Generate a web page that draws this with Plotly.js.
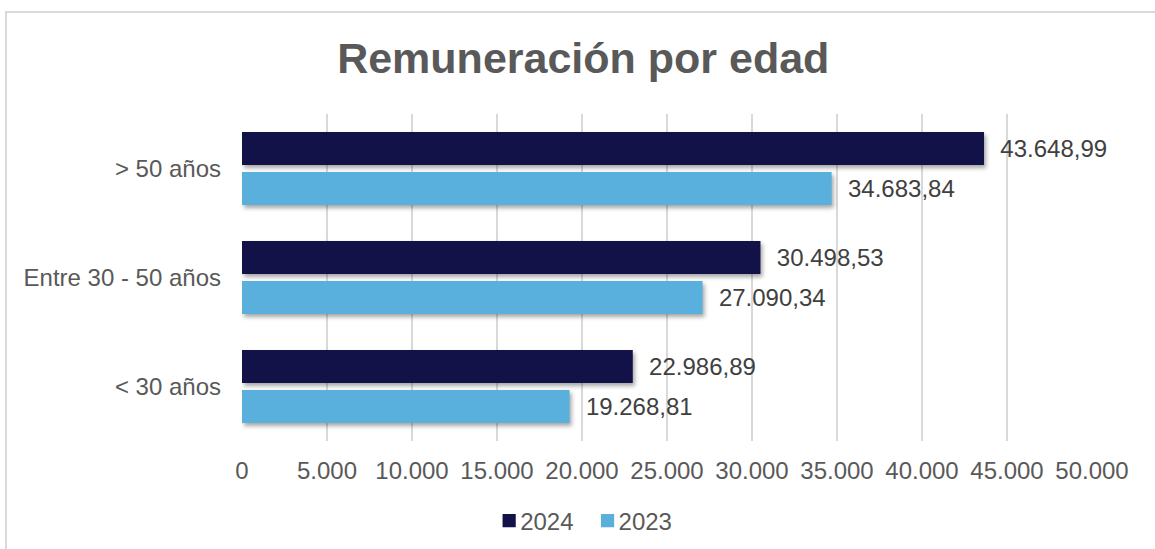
<!DOCTYPE html>
<html>
<head>
<meta charset="utf-8">
<script src="https://cdn.plot.ly/plotly-3.0.1.min.js"></script>
<style>
  html, body { margin: 0; padding: 0; background: #fff; }
  #wrap { position: relative; width: 1155px; height: 549px; overflow: hidden; }
  #frame { position: absolute; left: 5px; top: 11px; width: 1200px; height: 600px;
           border-left: 2px solid #d9d9d9; border-top: 2px solid #d9d9d9; box-sizing: border-box; pointer-events: none; }
  #chart { position: absolute; left: 0; top: 0; width: 1155px; height: 549px; }
  #chart .barlayer .point path { filter: drop-shadow(2px 3px 2px rgba(0,0,0,0.35)); }
  #chart .legend .legendpoints path { transform: translate(29px, 0px) scale(1.1); }
</style>
</head>
<body>
<div id="wrap">
  <div id="chart"></div>
  <div id="frame"></div>
</div>
<script>
const categories = ['> 50 años', 'Entre 30 - 50 años', '< 30 años'];
const values2024 = [43648.99, 30498.53, 22986.89];
const values2023 = [34683.84, 27090.34, 19268.81];
const xTicks = [0, 5000, 10000, 15000, 20000, 25000, 30000, 35000, 40000, 45000, 50000];

const font = 'Liberation Sans, Arial, sans-serif';
const txtColor = '#595959';
const fs = 24;

const traces = [
  {
    type: 'bar', orientation: 'h', name: '2024',
    y: categories, x: values2024,
    marker: { color: '#121248' },
    texttemplate: '\u00a0\u00a0%{x:,.2f}',
    textposition: 'outside', cliponaxis: false,
    textfont: { family: font, size: fs, color: '#404040' },
    hoverinfo: 'skip'
  },
  {
    type: 'bar', orientation: 'h', name: '2023',
    y: categories, x: values2023,
    marker: { color: '#5AB0DD' },
    texttemplate: '\u00a0\u00a0%{x:,.2f}',
    textposition: 'outside', cliponaxis: false,
    textfont: { family: font, size: fs, color: '#404040' },
    hoverinfo: 'skip'
  }
];

const layout = {
  width: 1155, height: 549,
  separators: ',.',
  paper_bgcolor: 'rgba(0,0,0,0)', plot_bgcolor: 'rgba(0,0,0,0)',
  margin: { l: 242, r: 63, t: 114, b: 108 },
  font: { family: font, size: fs, color: txtColor },
  title: {
    text: '<b>Remuneración por edad</b>',
    font: { family: font, size: 43, color: '#595959' },
    xref: 'container', x: 0.505, xanchor: 'center',
    yref: 'container', y: 1 - 58 / 549, yanchor: 'middle'
  },
  barmode: 'group', bargap: 0.266, bargroupgap: 0.175,
  xaxis: {
    range: [0, 50000], tickvals: xTicks, tickformat: ',d',
    showgrid: true, gridcolor: '#d9d9d9', gridwidth: 1.5,
    zeroline: false, showline: false, ticks: '',
    ticklabelstandoff: 13,
    tickfont: { family: font, size: fs, color: txtColor },
    fixedrange: true
  },
  yaxis: {
    type: 'category', categoryorder: 'array', categoryarray: categories,
    autorange: 'reversed',
    showgrid: false, zeroline: false, showline: false, ticks: '',
    ticklabelstandoff: 20,
    tickfont: { family: font, size: fs, color: txtColor },
    fixedrange: true
  },
  showlegend: true,
  legend: {
    orientation: 'h',
    xref: 'container', x: 0.501, xanchor: 'center',
    yref: 'container', y: 1 - 521 / 549, yanchor: 'middle',
    font: { family: font, size: fs, color: txtColor },
    itemwidth: 30, tracegroupgap: 0
  }
};

Plotly.newPlot('chart', traces, layout, { displayModeBar: false, staticPlot: true });
</script>
</body>
</html>
